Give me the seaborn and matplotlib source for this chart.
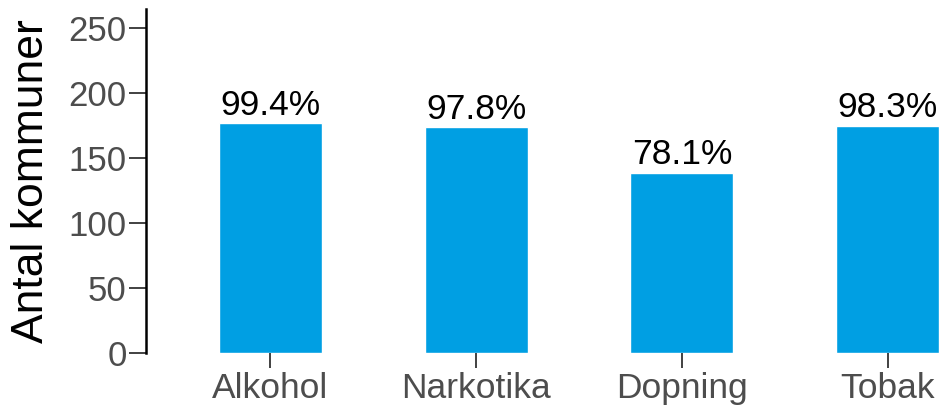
import matplotlib
matplotlib.use("Agg")
import matplotlib.pyplot as plt
import seaborn as sns
import pandas as pd

categories = ["Alkohol", "Narkotika", "Dopning", "Tobak"]
counts = [177, 174, 139, 175]
pct_labels = ["99.4%", "97.8%", "78.1%", "98.3%"]
yticks = [0, 50, 100, 150, 200, 250]
title = "Ämne"
ylabel = "Antal kommuner"

sns.set_theme(style="white")
plt.rcParams["font.family"] = ["Liberation Sans", "DejaVu Sans"]

df = pd.DataFrame({"cat": categories, "n": counts})

fig = plt.figure(figsize=(9.41, 4.08), dpi=100)
ax = fig.add_axes([146 / 941, 55 / 408, (941 - 146) / 941, 344 / 408])

sns.barplot(data=df, x="cat", y="n", color="#009FE3", saturation=1, width=0.5, ax=ax)

for i, (v, lab) in enumerate(zip(counts, pct_labels)):
    ax.text(i, v + 1.2, lab, ha="center", va="bottom", fontsize=25.5, color="black")

ax.set_xlim(-0.605, 3.26)
ax.set_ylim(0, 265)
ax.set_yticks(yticks)
ax.set_xlabel("")
ax.set_ylabel(ylabel, fontsize=32, color="black", labelpad=12)
ax.tick_params(axis="y", labelsize=25, labelcolor="#4d4d4d", length=12, width=1.3,
               color="#333333", left=True, pad=2)
ax.tick_params(axis="x", labelsize=25.5, labelcolor="#4d4d4d", length=11, width=1.3,
               color="#333333", bottom=True, pad=3)

for s in ["top", "right", "bottom"]:
    ax.spines[s].set_visible(False)
ax.spines["left"].set_color("black")
ax.spines["left"].set_linewidth(1.8)

fig.text(0.61, 1.033, title, ha="center", va="center", fontsize=36, fontweight="bold")

fig.savefig("out.png", dpi=100)
